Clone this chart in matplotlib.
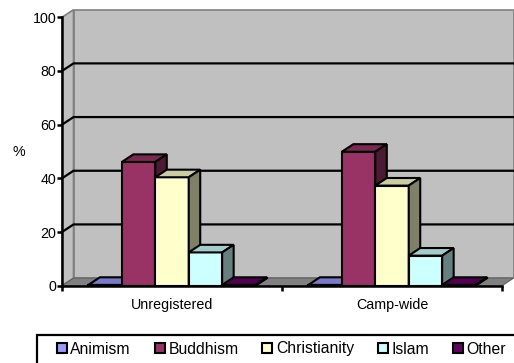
import numpy as np
import matplotlib
matplotlib.use('Agg')
import matplotlib.pyplot as plt
from matplotlib.patches import Rectangle, Polygon, Patch
from matplotlib.colors import to_rgb

plt.rcParams['font.family'] = ['Liberation Sans', 'DejaVu Sans']

categories = ['Unregistered', 'Camp-wide']
religions = ['Animism', 'Buddhism', 'Christianity', 'Islam', 'Other']
colors = ['#9999FF', '#993366', '#FFFFCC', '#CCFFFF', '#660066']

animism = [0.3, 0.3]
buddhism = [46.1, 49.9]
christianity = [40.4, 37.3]
islam = [12.4, 11.2]
other = [0.3, 0.3]
series = [animism, buddhism, christianity, islam, other]

yticks = [0, 20, 40, 60, 80, 100]

# depth of the fake 3d box, in data units (x: categories, y: percent)
dx = 0.0523
dy = 2.83
bar_w = 0.152
group_pad = 0.12


def shade(c, f):
    r, g, b = to_rgb(c)
    return (r * f, g * f, b * f)


fig = plt.figure(figsize=(5.14, 3.63), dpi=100)
ax = fig.add_axes([62 / 514, 77.3 / 363, 440 / 514, 268.4 / 363])
ax.set_xlim(0, len(categories))
ax.set_ylim(0, 100)
ax.patch.set_visible(False)

wall = '#C0C0C0'
edge = '#808080'

# back wall, side wall, floor
ax.add_patch(Rectangle((dx, dy), len(categories), 100, fc=wall, ec=edge,
                       lw=1.2, clip_on=False, zorder=0.5))
ax.add_patch(Polygon([(0, 0), (dx, dy), (dx, 100 + dy), (0, 100)], fc=wall,
                     ec=edge, lw=1.2, clip_on=False, zorder=0.5))
ax.add_patch(Polygon([(0, 0), (len(categories), 0),
                      (len(categories) + dx, dy), (dx, dy)],
                     fc=edge, ec='#606060', lw=0.8, clip_on=False, zorder=0.6))

for v in yticks[1:-1]:
    ax.plot([0, dx, len(categories) + dx], [v, v + dy, v + dy], color='black',
            lw=1.6, clip_on=False, zorder=0.7)

# 3d columns, left to right so each front face hides the previous side
z = 2
for c in range(len(categories)):
    for i, vals in enumerate(series):
        h = vals[c]
        x0 = c + group_pad + i * bar_w
        col = colors[i]
        ax.add_patch(Rectangle((x0, 0), bar_w, h, fc=col, ec='black',
                               lw=1.5, clip_on=False, zorder=z))
        ax.add_patch(Polygon([(x0, h), (x0 + bar_w, h),
                              (x0 + bar_w + dx, h + dy), (x0 + dx, h + dy)],
                             fc=shade(col, 0.8), ec='black', lw=1.5,
                             clip_on=False, zorder=z))
        ax.add_patch(Polygon([(x0 + bar_w, 0), (x0 + bar_w + dx, dy),
                              (x0 + bar_w + dx, h + dy), (x0 + bar_w, h)],
                             fc=shade(col, 0.5), ec='black', lw=1.5,
                             clip_on=False, zorder=z))
        z += 0.01

for s in ['top', 'right']:
    ax.spines[s].set_visible(False)
for s in ['left', 'bottom']:
    ax.spines[s].set_linewidth(1.8)
    ax.spines[s].set_zorder(5)

ax.set_yticks(yticks)
ax.tick_params(axis='y', length=3.3, width=1.8, pad=0.8, labelsize=10.3)
ax.set_xticks(np.arange(len(categories) + 1))
ax.set_xticklabels([])
ax.set_xticks(np.arange(len(categories)) + 0.5, minor=True)
ax.set_xticklabels(categories, minor=True)
ax.tick_params(axis='x', which='major', length=3.6, width=1.8)
ax.tick_params(axis='x', which='minor', length=0, pad=8.5, labelsize=10.3)

ax.set_ylabel('%', rotation=0, va='center', ha='center', fontsize=10.3)
ax.yaxis.set_label_coords(-0.099, 0.5)

# legend frame runs off the right and bottom edges
fig.patches.append(Rectangle((37 / 514, -0.1), 1.0, 0.1 + 28 / 363,
                             transform=fig.transFigure, fill=False,
                             ec='black', lw=1.6))
handles = [Patch(fc=c, ec='black', lw=1.5) for c in colors]
fs = 11.3
px = fs * 100 / 72
fig.legend(handles, religions, ncol=5, loc='center left',
           bbox_to_anchor=(49 / 514, 1 - 349 / 363), frameon=False,
           fontsize=fs, borderpad=0, handlelength=10 / px,
           handleheight=10 / px, handletextpad=3.5 / px,
           columnspacing=24 / px)

fig.savefig('out.png', dpi=100)
